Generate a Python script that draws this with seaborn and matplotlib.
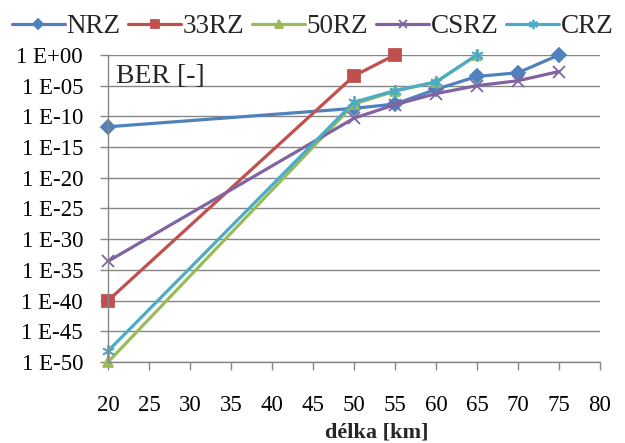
import numpy as np
import pandas as pd
import matplotlib
matplotlib.use('Agg')
import matplotlib.pyplot as plt
import seaborn as sns
from matplotlib.ticker import FixedLocator, NullLocator

# data (BER vs. fibre length)
nrz_km = [20, 50, 55, 60, 65, 70, 75]
nrz_ber = [10**-11.7, 10**-8.7, 10**-8.0, 10**-5.6, 10**-3.5, 10**-2.9, 1.0]

rz33_km = [20, 50, 55]
rz33_ber = [1e-40, 10**-3.4, 1.0]

rz50_km = [20, 50, 55, 60, 65]
rz50_ber = [1e-50, 10**-8.0, 10**-5.9, 10**-4.4, 1.0]

csrz_km = [20, 50, 55, 60, 65, 70, 75]
csrz_ber = [10**-33.6, 10**-10.3, 10**-8.1, 10**-6.3, 10**-5.0, 10**-4.2, 10**-2.7]

crz_km = [20, 50, 55, 60, 65]
crz_ber = [10**-48.2, 10**-7.7, 10**-5.8, 10**-4.4, 1.0]

formats = ['NRZ', '33RZ', '50RZ', 'CSRZ', 'CRZ']
colors = ['#4F81BD', '#C0504D', '#9BBB59', '#8064A2', '#4BACC6']
marks = ['D', 's', '^', 'x', (6, 2, 0)]
msizes = [7, 8, 7, 8, 9]

ytick_exp = [0, -5, -10, -15, -20, -25, -30, -35, -40, -45, -50]
xticks = [20, 25, 30, 35, 40, 45, 50, 55, 60, 65, 70, 75, 80]

series = {}
for name, km, ber in zip(formats,
                         [nrz_km, rz33_km, rz50_km, csrz_km, crz_km],
                         [nrz_ber, rz33_ber, rz50_ber, csrz_ber, crz_ber]):
    series[name] = pd.DataFrame({'km': km, 'BER': ber})

sns.set_theme(style='white')
plt.rcParams['font.family'] = ['Liberation Serif', 'DejaVu Serif']

fig, ax = plt.subplots(figsize=(6.25, 4.43), dpi=100)
fig.subplots_adjust(left=0.173, right=0.96, top=0.876, bottom=0.183)

for name, c, m, ms in zip(formats, colors, marks, msizes):
    sns.lineplot(data=series[name], x='km', y='BER', color=c, marker=m,
                 label=name, linewidth=2.3, markersize=ms,
                 markeredgewidth=1.3, markeredgecolor=c, markerfacecolor=c,
                 sort=False, clip_on=False, ax=ax)

ax.set_yscale('log')
ax.set_ylim(1e-50, 1)
ax.set_xlim(20, 80)
ax.yaxis.set_major_locator(FixedLocator([10.0**e for e in ytick_exp]))
ax.yaxis.set_minor_locator(NullLocator())
ax.set_yticklabels(['1 E+00' if e == 0 else '1 E-%02d' % -e for e in ytick_exp])
ax.set_xticks(xticks)

ax.grid(axis='y', color='#868686', linewidth=1)
ax.grid(axis='x', visible=False)
for s in ['top', 'right']:
    ax.spines[s].set_visible(False)
for s in ['left', 'bottom']:
    ax.spines[s].set_color('#868686')
    ax.spines[s].set_linewidth(1)
ax.tick_params(axis='both', which='major', labelsize=16.5, colors='#868686',
               labelcolor='black', length=6, width=1, direction='out',
               left=True, bottom=True)
ax.tick_params(axis='y', pad=12)
ax.tick_params(axis='x', pad=18)

ax.set_ylabel('')
ax.set_xlabel('délka [km]', fontsize=16, fontweight='bold', va='top')
ax.xaxis.set_label_coords(0.547, -0.197)
ax.text(0.015, 0.97, 'BER [-]', transform=ax.transAxes, fontsize=20,
        va='top', ha='left')

ax.legend(loc='center', bbox_to_anchor=(0.416, 1.091), ncol=5,
          frameon=False, fontsize=19.5, handlelength=1.95, handletextpad=0.05,
          columnspacing=0.3, borderaxespad=0, markerscale=0.75)

plt.savefig('out.png', dpi=100)
